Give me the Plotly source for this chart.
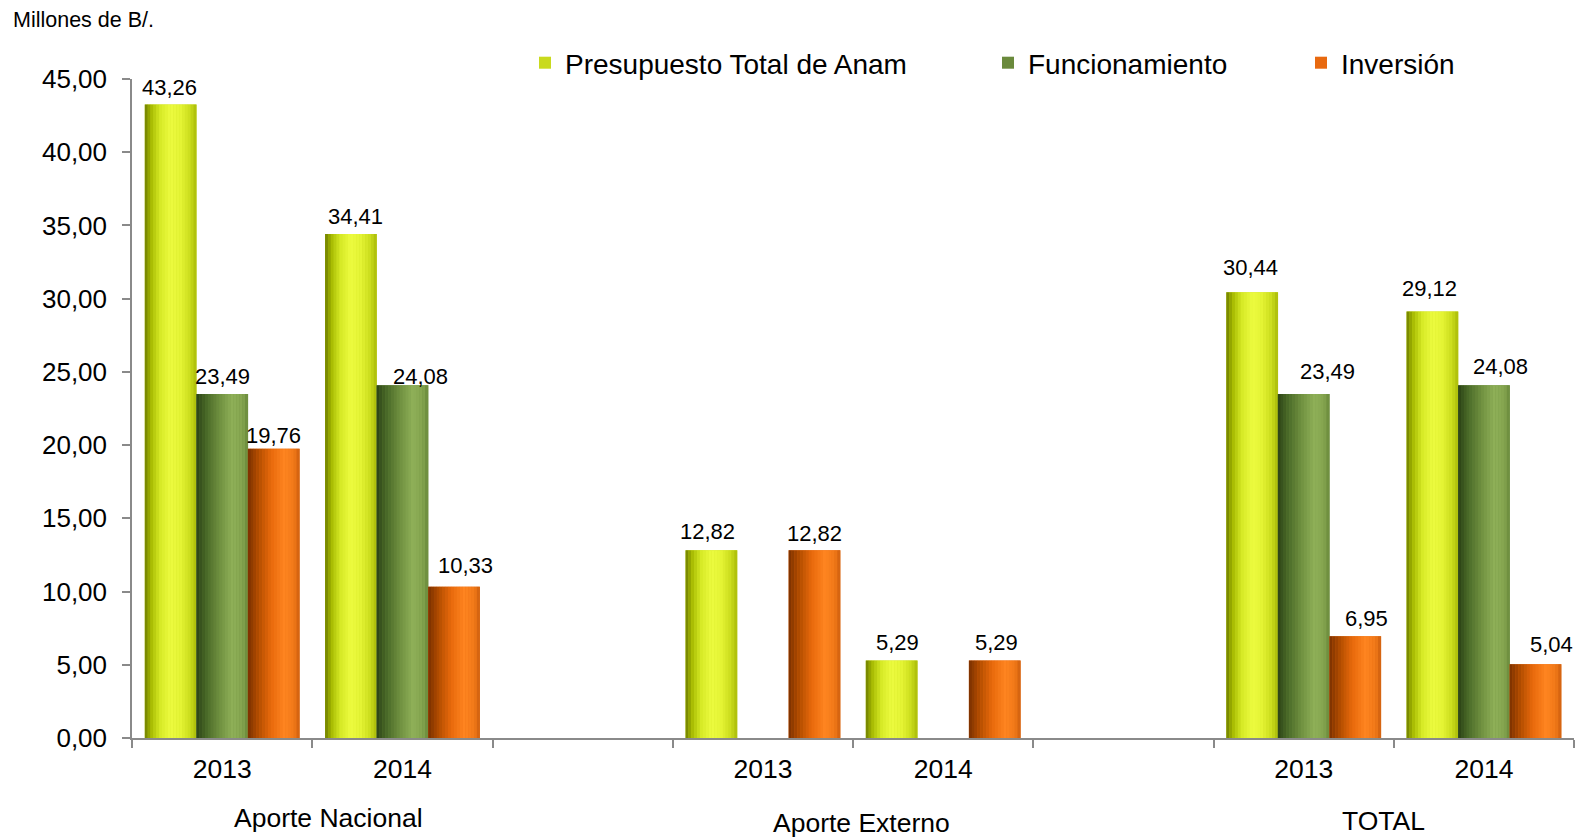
import plotly.graph_objects as go

# ---------------- data ----------------
slot_labels = ["2013", "2014", "", "2013", "2014", "", "2013", "2014"]
group_labels = ["Aporte Nacional", "Aporte Externo", "TOTAL"]
series_names = ["Presupuesto Total de Anam", "Funcionamiento", "Inversión"]
presupuesto = [43.26, 34.41, None, 12.82, 5.29, None, 30.44, 29.12]
funcionamiento = [23.49, 24.08, None, None, None, None, 23.49, 24.08]
inversion = [19.76, 10.33, None, 12.82, 5.29, None, 6.95, 5.04]
y_title = "Millones de B/."

# ---------------- style ----------------
FONT = "Arial, Liberation Sans, Helvetica, sans-serif"
OFF = 8                      # page body margin
W, H = 1583 - OFF, 838 - OFF  # figure size
# plot area in page pixels: x 132..1574, y 79..738
ML, MT = 132 - OFF, 79 - OFF
MR = W - (1574 - OFF)
MB = H - (738 - OFF)
PLOT_H = H - MT - MB
PLOT_W = W - ML - MR

legend_colors = ["#c9da1e", "#6a8a3c", "#e8690f"]
gradients = [
    [(0.0, "#6e7d00"), (0.12, "#a5b800"), (0.3, "#d6ea26"), (0.5, "#ecfb40"),
     (0.7, "#e4f434"), (0.88, "#cadc1c"), (1.0, "#a9ba08")],
    [(0.0, "#2c4216"), (0.2, "#4a6a28"), (0.45, "#6f9040"), (0.7, "#8fb058"),
     (0.9, "#84a44e"), (1.0, "#68883a")],
    [(0.0, "#7a3000"), (0.2, "#b04c00"), (0.45, "#e86a0c"), (0.7, "#ff8520"),
     (0.9, "#f07818"), (1.0, "#cc5e0e")],
]
# manual nudges (pixels) of the value labels, as placed in the original chart
label_dx = [
    [-1, 4.5, 0, -4, 6, 0, -2, -2.5],
    [0, 18.5, 0, 0, 0, 0, 24, 16.5],
    [0, 11.5, 0, 0, 1.5, 0, 11, 16],
]
label_dy = [
    [2, 3, 0, 4, 4, 0, 10, 9],
    [3, -6, 0, 0, 0, 0, 8, 4],
    [-1, 7, 0, 2, 4, 0, 3, 5],
]


def hex2rgb(h):
    h = h.lstrip("#")
    return tuple(int(h[i:i + 2], 16) for i in (0, 2, 4))


def interp(stops, t):
    for (p0, c0), (p1, c1) in zip(stops[:-1], stops[1:]):
        if p0 <= t <= p1:
            f = (t - p0) / (p1 - p0) if p1 > p0 else 0
            a, b = hex2rgb(c0), hex2rgb(c1)
            r = [round(a[i] + (b[i] - a[i]) * f) for i in range(3)]
            return "rgb(%d,%d,%d)" % tuple(r)
    return stops[-1][1]


def fmt(v):
    return f"{v:.2f}".replace(".", ",")


xpos = list(range(len(slot_labels)))
all_series = [presupuesto, funcionamiento, inversion]
legend_ids = ["legend", "legend2", "legend3"]

bw = 0.286
N = 18
fig = go.Figure()
annots = []
for j, (name, vals) in enumerate(zip(series_names, all_series)):
    base = -1.5 * bw + j * bw
    fig.add_trace(go.Bar(
        x=xpos, y=vals, name=name, width=bw, offset=base,
        marker=dict(color=legend_colors[j], line=dict(width=0)),
        legend=legend_ids[j], hoverinfo="skip",
    ))
    for k in range(N):
        t = (k + 0.5) / N
        fig.add_trace(go.Bar(
            x=xpos, y=vals, width=bw / N * 1.08, offset=base + k * bw / N,
            marker=dict(color=interp(gradients[j], t), line=dict(width=0)),
            showlegend=False, hoverinfo="skip",
        ))
    # value labels above each bar
    for i, (xi, v) in enumerate(zip(xpos, vals)):
        if v is None:
            continue
        annots.append(dict(
            text=fmt(v), x=xi + base + bw / 2, xref="x", y=v, yref="y",
            xanchor="center", yanchor="bottom",
            xshift=label_dx[j][i], yshift=label_dy[j][i], showarrow=False,
            font=dict(size=22, color="#000000", family=FONT),
        ))


def py2paper(py_page):
    return (H - MB - (py_page - OFF)) / PLOT_H


def px2data(px_page):
    return (px_page - OFF - ML) / (PLOT_W / len(slot_labels)) - 0.5


for lab, px, py in zip(group_labels, [328, 861, 1383], [818, 823, 821]):
    annots.append(dict(
        text=lab, x=px2data(px), xref="x", y=py2paper(py), yref="paper",
        xanchor="center", yanchor="middle", showarrow=False,
        font=dict(size=26.5, color="#000000", family=FONT),
    ))

legend_x = [517, 980, 1293]   # figure pixels
layout_legends = {}
for lid, lx in zip(legend_ids, legend_x):
    layout_legends[lid] = dict(
        x=lx / W, xref="container", xanchor="left",
        y=1 - 55 / H, yref="container", yanchor="middle",
        orientation="h", font=dict(size=28, color="#000000", family=FONT),
        bgcolor="rgba(0,0,0,0)", borderwidth=0,
    )

fig.update_layout(
    width=W, height=H,
    margin=dict(l=ML, r=MR, t=MT, b=MB, autoexpand=False),
    barmode="overlay",
    separators=",.",
    plot_bgcolor="white", paper_bgcolor="white",
    font=dict(family=FONT, color="#000000"),
    title=dict(text=y_title, x=5 / W, xref="container", xanchor="left",
               y=1 - 11 / H, yref="container", yanchor="middle",
               font=dict(size=21.5, color="#000000", family=FONT)),
    annotations=annots,
    xaxis=dict(
        range=[-0.5, len(slot_labels) - 0.5],
        tickmode="array", tickvals=xpos, ticktext=slot_labels,
        ticks="", showgrid=False, zeroline=False,
        showline=True, linecolor="#8a8a8a", linewidth=1.5,
        tickfont=dict(size=26.5, color="#000000", family=FONT),
        ticklabelstandoff=6,
        minor=dict(tick0=-0.5, dtick=1, ticks="outside", ticklen=8,
                   tickcolor="#8a8a8a", tickwidth=1.5, showgrid=False),
    ),
    yaxis=dict(
        range=[0, 45], dtick=5, tick0=0, tickformat=".2f",
        showgrid=False, zeroline=False,
        showline=True, linecolor="#8a8a8a", linewidth=1.5,
        ticks="outside", ticklen=8, tickcolor="#8a8a8a", tickwidth=1.5,
        tickfont=dict(size=26, color="#000000", family=FONT),
        ticklabelstandoff=10,
    ),
    **layout_legends,
)

fig.write_html("out.html")
